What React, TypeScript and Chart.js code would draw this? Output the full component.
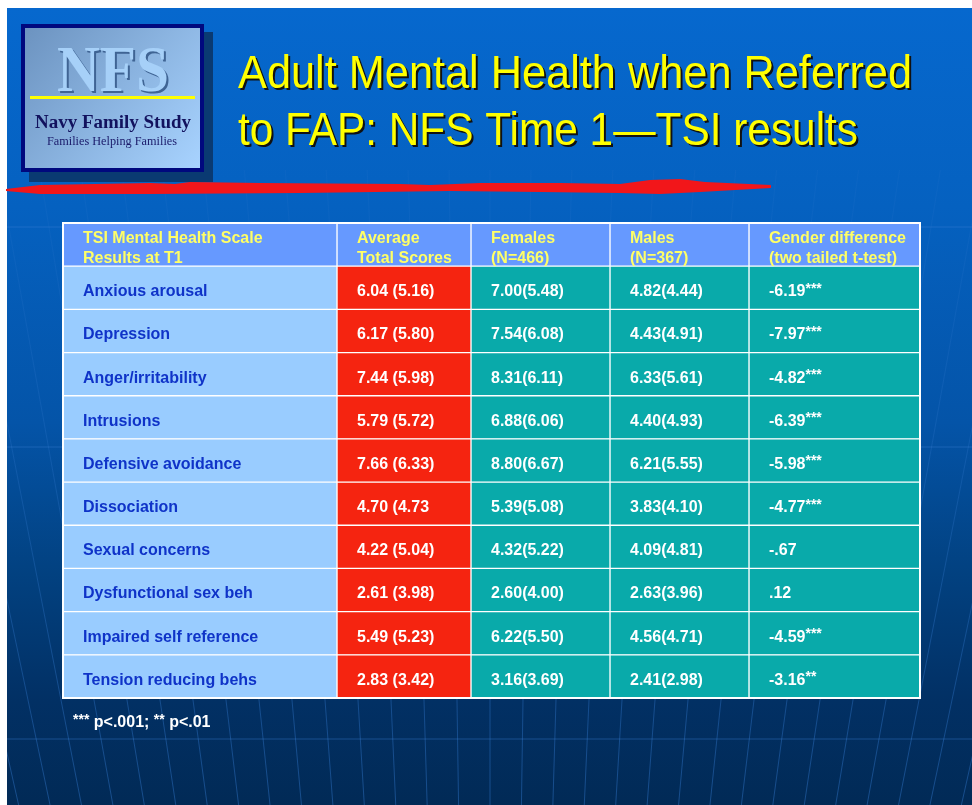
import { useEffect, useRef } from 'react';
import { Chart, registerables } from 'chart.js';

Chart.register(...registerables);

// ---------- DATA ----------
const SCALES = [
  'Anxious arousal',
  'Depression',
  'Anger/irritability',
  'Intrusions',
  'Defensive avoidance',
  'Dissociation',
  'Sexual concerns',
  'Dysfunctional sex beh',
  'Impaired self reference',
  'Tension reducing behs',
];
const AVG_TOTAL = ['6.04 (5.16)', '6.17 (5.80)', '7.44 (5.98)', '5.79 (5.72)', '7.66 (6.33)', '4.70 (4.73', '4.22 (5.04)', '2.61 (3.98)', '5.49 (5.23)', '2.83 (3.42)'];
const FEMALES = ['7.00(5.48)', '7.54(6.08)', '8.31(6.11)', '6.88(6.06)', '8.80(6.67)', '5.39(5.08)', '4.32(5.22)', '2.60(4.00)', '6.22(5.50)', '3.16(3.69)'];
const MALES = ['4.82(4.44)', '4.43(4.91)', '6.33(5.61)', '4.40(4.93)', '6.21(5.55)', '3.83(4.10)', '4.09(4.81)', '2.63(3.96)', '4.56(4.71)', '2.41(2.98)'];
const T_VALUES = ['-6.19', '-7.97', '-4.82', '-6.39', '-5.98', '-4.77', '-.67', '.12', '-4.59', '-3.16'];
const SIGNIF = ['***', '***', '***', '***', '***', '***', '', '', '***', '**'];
const HEADERS = [
  ['TSI Mental Health Scale', 'Results at T1'],
  ['Average', 'Total Scores'],
  ['Females', '(N=466)'],
  ['Males', '(N=367)'],
  ['Gender difference', '(two tailed t-test)'],
];
const TITLE_LINES = ['Adult Mental Health when Referred', 'to FAP: NFS Time 1\u2014TSI results'];
const FOOTNOTE = [['***', 's'], [' p<.001; ', 'n'], ['**', 's'], [' p<.01', 'n']];

// ---------- LAYOUT / STYLE ----------
const W = 972;
const H = 805;
const COL_EDGES = [63, 337, 471, 610, 749, 920];
const TABLE_TOP = 223;
const TABLE_BOTTOM = 698;
const HEADER_BG = '#6699FF';
const COL_BG = ['#99CCFF', '#F52410', '#09AAAA', '#09AAAA', '#09AAAA'];
const COL_TEXT = ['#0F33C8', '#FFFFFF', '#FFFFFF', '#FFFFFF', '#FFFFFF'];
const FONT = "'Liberation Sans', Arial, sans-serif";
const SERIF = "'Liberation Serif', 'Times New Roman', serif";

const COLUMNS = [SCALES, AVG_TOTAL, FEMALES, MALES, T_VALUES];
const ROW_KEYS = ['header', ...SCALES];

function fitText(ctx: CanvasRenderingContext2D, text: string, x: number, y: number, font: string, width: number) {
  ctx.font = font;
  const w = ctx.measureText(text).width;
  const s = width / w;
  ctx.save();
  ctx.translate(x, y);
  ctx.scale(s, 1);
  ctx.textAlign = 'left';
  ctx.fillText(text, 0, 0);
  ctx.restore();
}

function drawWithStars(ctx: CanvasRenderingContext2D, parts: string[][], x: number, y: number) {
  let cx = x;
  parts.forEach(([txt, kind]) => {
    ctx.font = kind === 's' ? `bold 14px ${FONT}` : `bold 16px ${FONT}`;
    ctx.fillText(txt, cx, kind === 's' ? y - 3 : y);
    cx += ctx.measureText(txt).width;
  });
}

const backgroundPlugin = {
  id: 'slideBackground',
  beforeDraw(chart: any) {
    const ctx: CanvasRenderingContext2D = chart.ctx;
    ctx.save();
    ctx.fillStyle = '#FFFFFF';
    ctx.fillRect(0, 0, W, H);
    const sx = 7, sy = 8;
    const g = ctx.createLinearGradient(0, sy, 0, H);
    g.addColorStop(0, '#0668CE');
    g.addColorStop(0.25, '#0561C0');
    g.addColorStop(0.52, '#0454A8');
    g.addColorStop(0.7, '#024282');
    g.addColorStop(0.87, '#023064');
    g.addColorStop(1, '#012A56');
    ctx.fillStyle = g;
    ctx.fillRect(sx, sy, W - sx, H - sy);

    // faint perspective lines
    ctx.save();
    ctx.beginPath();
    ctx.rect(sx, 170, W - sx, H - 170);
    ctx.clip();
    const lg0 = ctx.createLinearGradient(0, 170, 0, H);
    lg0.addColorStop(0, 'rgba(50,120,205,0.12)');
    lg0.addColorStop(1, 'rgba(50,120,205,0.45)');
    ctx.strokeStyle = lg0;
    ctx.lineWidth = 1;
    const vpx = 490, vpy = 2900;
    for (let k = -16; k <= 16; k++) {
      const x700 = vpx + k * 33;
      const t = (170 - vpy) / (700 - vpy);
      const xTop = vpx + (x700 - vpx) * t;
      ctx.beginPath();
      ctx.moveTo(xTop, 170);
      ctx.lineTo(vpx + (x700 - vpx) * ((H - vpy) / (700 - vpy)), H);
      ctx.stroke();
    }
    ctx.strokeStyle = 'rgba(60,130,215,0.4)';
    [227, 447, 739].forEach((y) => {
      ctx.beginPath();
      ctx.moveTo(sx, y);
      ctx.lineTo(W, y);
      ctx.stroke();
    });
    ctx.restore();

    // logo
    ctx.fillStyle = '#0A3A72';
    ctx.fillRect(29, 32, 184, 150);
    ctx.fillStyle = '#00087E';
    ctx.fillRect(21, 24, 183, 148);
    const lg = ctx.createLinearGradient(25, 28, 200, 168);
    lg.addColorStop(0, '#6C93C0');
    lg.addColorStop(1, '#A8D3FF');
    ctx.fillStyle = lg;
    ctx.fillRect(25, 28, 175, 140);
    ctx.textBaseline = 'alphabetic';
    ctx.fillStyle = '#3F6494';
    fitText(ctx, 'NFS', 59, 93, `bold 66px ${SERIF}`, 112);
    ctx.fillStyle = '#A6D0F8';
    fitText(ctx, 'NFS', 57, 91, `bold 66px ${SERIF}`, 112);
    ctx.fillStyle = '#FFFF00';
    ctx.fillRect(30, 96, 165, 3);
    ctx.fillStyle = '#12125E';
    fitText(ctx, 'Navy Family Study', 35, 128, `bold 18px ${SERIF}`, 156);
    ctx.fillStyle = '#1A1A6A';
    fitText(ctx, 'Families Helping Families', 47, 145, `13px ${SERIF}`, 130);

    // title
    const tFont = `46px ${FONT}`;
    const tW = [674, 620];
    const tY = [88, 145];
    TITLE_LINES.forEach((line, i) => {
      ctx.fillStyle = '#111111';
      fitText(ctx, line, 240, tY[i] + 2, tFont, tW[i]);
      ctx.fillStyle = '#FFFF00';
      fitText(ctx, line, 238, tY[i], tFont, tW[i]);
    });

    // red brush stroke
    ctx.fillStyle = '#F2161A';
    ctx.beginPath();
    const top = [[6, 189], [40, 185], [150, 183], [175, 184], [190, 182], [260, 183], [400, 184], [430, 185], [480, 183], [560, 183], [620, 184], [650, 180], [680, 179], [705, 182], [771, 185]];
    const bot = [[771, 188], [700, 192], [660, 194], [620, 193], [540, 192], [450, 191], [300, 193], [150, 194], [40, 194], [6, 191]];
    ctx.moveTo(top[0][0], top[0][1]);
    top.slice(1).forEach(([x, y]) => ctx.lineTo(x, y));
    bot.forEach(([x, y]) => ctx.lineTo(x, y));
    ctx.closePath();
    ctx.fill();

    // footnote
    ctx.fillStyle = '#FFFFFF';
    ctx.textBaseline = 'middle';
    ctx.textAlign = 'left';
    drawWithStars(ctx, FOOTNOTE, 73, 723);
    ctx.restore();
  },
};

const tableTextPlugin = {
  id: 'tableText',
  afterDatasetsDraw(chart: any) {
    const ctx: CanvasRenderingContext2D = chart.ctx;
    ctx.save();
    ctx.textBaseline = 'middle';
    ctx.textAlign = 'left';
    COLUMNS.forEach((col, j) => {
      const meta = chart.getDatasetMeta(j);
      meta.data.forEach((el: any, i: number) => {
        const p = el.getProps(['x', 'base', 'y', 'height'], true);
        const left = Math.min(p.x, p.base) + 20;
        ctx.font = `bold 16px ${FONT}`;
        if (i === 0) {
          ctx.fillStyle = '#FFFF66';
          ctx.fillText(HEADERS[j][0], left, p.y - 6);
          ctx.fillText(HEADERS[j][1], left, p.y + 14);
          return;
        }
        ctx.fillStyle = COL_TEXT[j];
        if (j === 4) {
          drawWithStars(ctx, [[col[i - 1], 'n'], [SIGNIF[i - 1], 's']], left, p.y + 4);
        } else {
          ctx.fillText(col[i - 1], left, p.y + 4);
        }
      });
    });
    const a = chart.chartArea;
    ctx.strokeStyle = '#FFFFFF';
    ctx.lineWidth = 2;
    ctx.strokeRect(a.left, a.top, a.right - a.left, a.bottom - a.top);
    ctx.restore();
  },
};

export default function App() {
  const ref = useRef<HTMLCanvasElement>(null);
  useEffect(() => {
    document.body.style.margin = '0';
    document.body.style.overflow = 'hidden';
    const datasets = COLUMNS.map((_, j) => ({
      label: HEADERS[j][0],
      data: ROW_KEYS.map(() => [COL_EDGES[j], COL_EDGES[j + 1]]),
      backgroundColor: ROW_KEYS.map((_, i) => (i === 0 ? HEADER_BG : COL_BG[j])),
      borderColor: '#FFFFFF',
      borderWidth: 1,
      borderSkipped: false,
      grouped: false,
      barPercentage: 1,
      categoryPercentage: 1,
    }));
    const chart = new Chart(ref.current as HTMLCanvasElement, {
      type: 'bar',
      data: { labels: ROW_KEYS, datasets: datasets as any },
      options: {
        indexAxis: 'y',
        responsive: false,
        animation: false,
        events: [],
        layout: {
          padding: { left: COL_EDGES[0], right: W - COL_EDGES[5], top: TABLE_TOP, bottom: H - TABLE_BOTTOM },
        },
        scales: {
          x: { type: 'linear', min: COL_EDGES[0], max: COL_EDGES[5], display: false },
          y: { type: 'category', display: false, offset: true },
        },
        plugins: { legend: { display: false }, tooltip: { enabled: false }, title: { display: false } },
      },
      plugins: [backgroundPlugin, tableTextPlugin],
    });
    return () => chart.destroy();
  }, []);
  return <canvas ref={ref} width={W} height={H} style={{ display: 'block' }} />;
}
